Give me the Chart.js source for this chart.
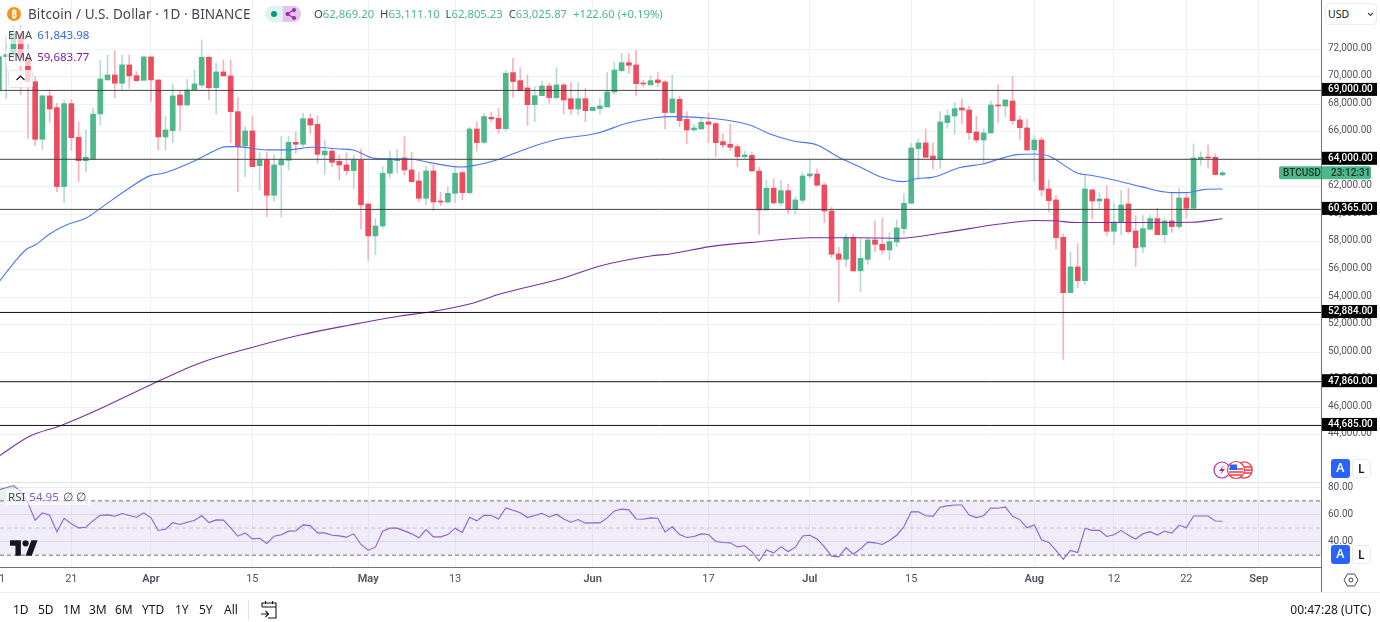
<!DOCTYPE html>
<html>
<head>
<meta charset="utf-8">
<title>BTCUSD</title>
<script src="https://cdn.jsdelivr.net/npm/chart.js@4"></script>
<style>
html, body { margin: 0; padding: 0; background: #fff; width: 1380px; height: 622px; overflow: hidden; }
body { position: relative; font-family: "Noto Sans", sans-serif; color: #434651; }
canvas { position: absolute; left: 0; display: block; }
.t { position: absolute; white-space: nowrap; line-height: 16px; }
.box { position: absolute; box-sizing: border-box; }
.rng { position: absolute; top: 602px; font-size: 12px; line-height: 16px; color: #131722; }
.btn { position: absolute; box-sizing: border-box; width: 18.5px; height: 19px; border-radius: 3px; font-size: 12px; font-weight: 600; line-height: 18px; text-align: center; }
.a { background: #2962ff; color: #fff; }
.l { background: #fff; color: #131722; border: 1px solid #e8eaf0; }
.g { color: #4cb88a; }
</style>
</head>
<body>
<canvas id="priceChart" width="1380" height="482" style="top:0"></canvas>
<canvas id="rsiChart" width="1380" height="110" style="top:482px"></canvas>

<!-- pane borders -->
<div class="box" style="left:0;top:482px;width:1321px;height:1px;background:#dfe2e6"></div>
<div class="box" style="left:0;top:592px;width:1380px;height:1px;background:#eceef2"></div>
<div class="box" style="left:1321px;top:0;width:1px;height:592px;background:#6f7278"></div>

<!-- header -->
<svg class="box" style="left:7px;top:7px" width="14" height="14" viewBox="0 0 14 14"><circle cx="7" cy="7" r="7" fill="#f7931a"/><text x="7" y="10.5" font-size="10" font-weight="700" text-anchor="middle" fill="#fff" font-family="Noto Sans">₿</text></svg>
<div class="t" style="left:28px;top:6px;font-size:13.5px;letter-spacing:.1px">Bitcoin / U.S. Dollar · 1D · BINANCE</div>
<div class="box" style="left:265px;top:6px;width:18px;height:16px;background:#e0f3f0;border-radius:8px 0 0 8px"></div>
<div class="box" style="left:283px;top:6px;width:18px;height:16px;background:#e3c4ea;border-radius:0 8px 8px 0"></div>
<div class="box" style="left:271px;top:11px;width:6px;height:6px;background:#089981;border-radius:50%"></div>
<svg class="box" style="left:284px;top:7px" width="14" height="14" viewBox="0 0 14 14"><path d="M3 7L10 3M3 7L10 11" stroke="#9c27b0" stroke-width="1.2" fill="none"/><circle cx="3.5" cy="7" r="2" fill="#9c27b0"/><circle cx="10" cy="3" r="2" fill="#9c27b0"/><circle cx="10" cy="11" r="2" fill="#9c27b0"/></svg>
<div class="t" style="left:314px;top:6px;font-size:11.3px">O<span class="g">62,869.20</span>&nbsp; H<span class="g">63,111.10</span>&nbsp; L<span class="g">62,805.23</span>&nbsp; C<span class="g">63,025.87</span>&nbsp; <span class="g">+122.60 (+0.19%)</span></div>

<!-- indicator legends -->
<div class="box" style="left:6px;top:27px;width:90px;height:17px;background:rgba(255,255,255,.65)"></div>
<div class="box" style="left:6px;top:49px;width:90px;height:17px;background:rgba(255,255,255,.65)"></div>
<div class="t" style="left:8px;top:27px;font-size:11.5px">EMA <span style="color:#2f66f0;margin-left:2px">61,843.98</span></div>
<div class="t" style="left:8px;top:49px;font-size:11.5px">EMA <span style="color:#7b1fa2;margin-left:2px">59,683.77</span></div>
<div class="box" style="left:8px;top:70px;width:25px;height:18px;background:rgba(255,255,255,.75);border:1px solid #e0e3eb;border-radius:3px"></div>
<svg class="box" style="left:15px;top:74px" width="11" height="8" viewBox="0 0 11 8"><path d="M1.5 6L5.5 2L9.5 6" stroke="#131722" stroke-width="1.2" fill="none"/></svg>
<div class="box" style="left:6px;top:489px;width:84px;height:16px;background:rgba(255,255,255,.6)"></div>
<div class="t" style="left:8px;top:489px;font-size:11.5px">RSI <span style="color:#7e57c2;margin-left:1px">54.95</span> <span style="margin-left:1px">∅ ∅</span></div>

<!-- TradingView mark -->
<svg class="box" style="left:10px;top:540px" width="28" height="16" viewBox="0 0 36 20"><path d="M14 20H7V7H0V0h14v20zM28 20h-8L27.5 0h8L28 20z" fill="#131722"/><circle cx="20" cy="4" r="4" fill="#131722"/></svg>

<!-- event icons -->
<svg class="box" style="left:1212px;top:460px" width="44" height="20" viewBox="0 0 44 20">
<circle cx="32" cy="10" r="8.2" fill="#fff" stroke="#f23645" stroke-width="1.2"/><path d="M24 7h16M24 10h16M24 13h16" stroke="#f23645" stroke-width="1.3"/>
<circle cx="10" cy="10" r="8" fill="#fff" stroke="#9c27b0" stroke-width="1.2"/><path d="M12 5L7 11h3l-2 4 5-6h-3z" fill="#9c27b0"/>
<circle cx="24" cy="10" r="8.5" fill="#fff" stroke="#f23645" stroke-width="1.2"/><path d="M17 9h14M17 12h14M18 15h12" stroke="#f23645" stroke-width="1.4"/><rect x="18" y="4.5" width="7" height="5.5" fill="#2962ff"/>
</svg>

<!-- scale buttons -->
<div class="box" style="left:1325px;top:3px;width:52px;height:22px;border:1px solid #eceef2;border-radius:4px;background:#fff"></div>
<div class="t" style="left:1328px;top:6px;font-size:10.5px;color:#131722">USD</div>
<svg class="box" style="left:1367px;top:12px" width="7" height="5" viewBox="0 0 7 5"><path d="M1 1L3.5 3.5L6 1" stroke="#434651" stroke-width="1.1" fill="none"/></svg>
<div class="btn a" style="left:1331px;top:459px">A</div>
<div class="btn l" style="left:1352px;top:459px">L</div>
<div class="btn a" style="left:1331px;top:545px">A</div>
<div class="btn l" style="left:1352px;top:545px">L</div>
<svg class="box" style="left:1343px;top:572px" width="16" height="16" viewBox="0 0 16 16"><path d="M4.5 2h7L15 8l-3.5 6h-7L1 8z" stroke="#434651" fill="none"/><circle cx="8" cy="8" r="2" stroke="#434651" fill="none"/></svg>

<!-- bottom toolbar -->
<span class="rng" style="left:13px">1D</span>
<span class="rng" style="left:38px">5D</span>
<span class="rng" style="left:63px">1M</span>
<span class="rng" style="left:89px">3M</span>
<span class="rng" style="left:115px">6M</span>
<span class="rng" style="left:142px">YTD</span>
<span class="rng" style="left:175px">1Y</span>
<span class="rng" style="left:199px">5Y</span>
<span class="rng" style="left:224px">All</span>
<div class="box" style="left:248px;top:600px;width:1px;height:20px;background:#e0e3eb"></div>
<svg class="box" style="left:260px;top:600px" width="18" height="19" viewBox="0 0 18 19"><path d="M2 7V3h14v15H8M2 7h14M5.5 1v3M12.5 1v3M1 14h7M5.5 11l3 3-3 3" stroke="#131722" stroke-width="1.1" fill="none"/></svg>
<div class="t" style="right:9px;top:602px;font-size:12px;color:#131722">00:47:28 (UTC)</div>

<script>
// Candles, one per day starting at 11 Mar (day 0)
var opens = [69000,71450,71570,73100,71400,69630,65450,68600,67750,62020,68040,65600,63900,64000,67290,69760,70120,69520,70850,70070,
69730,71430,69760,65620,66080,68670,67940,69030,69390,71400,69200,70340,70050,67460,64970,66060,63540,63950,61390,63590,
63930,65230,65090,66950,66540,64320,64600,63850,63590,63180,63930,60760,58440,59160,62985,63900,64100,63225,62430,61170,
63150,60975,60900,61530,63030,61580,66200,65235,67050,66975,66225,70290,69710,69177,67967,68620,69320,68475,69395,68400,
67650,68400,67530,67680,67800,68890,70435,71015,70845,69540,69395,69760,69610,67387,68354,66900,66130,66200,66710,66590,
65280,65090,64920,64190,64290,63150,60320,61900,60830,61725,60395,61025,62790,62935,62135,60250,57130,56740,58340,55900,
56740,58145,57830,57420,58000,58970,60810,64775,65185,64240,64000,66660,67145,67725,67580,65985,65400,65910,67943,67870,
68230,66855,66275,64680,65400,61850,61050,58340,54325,56190,55195,61775,60975,61120,58775,59400,60760,58800,57640,58920,
59695,58530,59525,59115,61195,60445,64000,64170,64145,62869];
var highs = [72400,72900,73650,73700,72400,70000,68700,69030,68060,68300,68300,66700,66130,67700,71200,71570,71860,71570,71570,70360,
71500,71430,69760,67100,69470,68980,69800,70480,72660,71450,70970,71200,71200,68500,66370,67150,64480,64550,64310,65650,
65650,66000,67340,67290,67150,65400,64800,64310,64480,64315,64750,60760,59720,63470,64600,64725,65645,64500,63060,63470,
63590,61600,62015,63470,63150,66320,66730,67340,67435,67700,70435,71330,70650,70120,69270,69660,69515,70650,69515,69565,
69565,69150,67775,68425,70290,71040,71690,71690,71930,69730,70050,70290,69710,70120,68600,67460,66540,66975,67340,66685,
65840,66565,65110,64600,64530,63395,62500,62570,62500,62210,61290,63030,63950,63300,62260,60520,57615,58580,58580,58220,
58315,59525,59720,58680,59600,61530,65160,65475,66200,65235,67460,67580,68140,68380,67870,67145,66200,68230,69395,68305,
70000,67145,66900,65720,65600,62500,61390,58580,57275,57860,62860,61850,61580,62065,60800,61725,61895,59910,59910,59910,
60445,59695,61530,61870,61605,65110,64555,65040,64385,63111];
var lows = [68500,68400,71200,68700,65520,64990,64720,66700,61650,60880,64630,62380,63100,64000,66490,69760,68480,69080,69150,69640,
69730,68190,64680,64680,65210,66080,67940,69030,69230,68300,67290,70050,65210,61650,62740,63470,61780,59840,60980,59790,
63230,64440,64920,65890,63710,62910,63470,62500,62860,61850,58945,56650,57060,58990,62670,62985,62860,62380,60930,60690,
60275,60640,60800,60855,61050,61480,64600,65160,66710,65890,66080,68500,68980,66440,66730,68620,68064,68355,67290,67240,
67240,66730,67530,67290,67800,68670,70340,70240,68600,69270,69395,69270,66180,67340,66370,65160,66000,66200,65210,64190,
64850,64630,63470,64050,63150,58560,60320,60810,60640,60080,60030,60810,62620,62110,59400,56860,53670,56210,55900,54400,
56380,57300,57130,56690,57660,58560,60810,62500,64145,63300,63350,66250,65810,66610,65450,65210,63710,65910,66660,67100,
66540,65400,64600,62380,61360,60200,57470,49485,54325,54690,54880,59670,60445,58460,57830,58510,58630,56210,57225,58920,
58530,57950,58700,58920,59720,60445,63590,63350,62890,62805];
var closes = [71450,71600,73100,71400,69630,65450,68600,67650,62020,68040,65570,63900,64150,67270,69830,70120,69520,70850,70050,69710,
71430,69760,65620,66130,68600,67940,69030,69470,71400,69200,70340,70050,67460,64900,66060,63470,63930,61390,63590,64000,
65230,65090,66950,66490,64360,64600,63780,63590,63180,63950,60690,58440,59160,62985,64000,64000,63225,62380,61170,63150,
60900,60900,61530,62985,61580,66200,65210,67100,66930,66225,70240,69636,68983,67967,68620,69320,68475,69395,68305,67650,
68400,67530,67775,67870,68890,70480,71015,70820,69490,69465,69710,69565,67390,68378,66806,66130,66275,66685,66540,65210,
65040,64870,64190,64315,63150,60320,61900,60830,61725,60395,61050,62790,62935,62110,60250,57105,56740,58340,55900,56815,
58145,57830,57420,58025,59020,60810,64820,65185,64145,64000,66710,67170,67680,67580,65935,65400,65910,67940,67870,68305,
66806,66300,64680,65400,61775,61000,58315,54325,56190,55195,61850,60975,61120,58775,59450,60685,58750,57590,58970,59695,
58530,59525,59115,61195,60445,64095,64145,64095,62890,63025];

// EMA lines, read at the days listed
var emaFastDays = [0,2,3.8,5,7,9.3,12,14,17.6,20.9,22.7,27.3,30,31.4,32.8,37,39.7,43.4,47,48.9,51.9,56.8,59.5,63.9,66,69.2,72.4,77,82.6,86.7,90.6,92.7,94,98.2,101,103.7,106.5,109.7,113,116,119,121.7,124.9,127,128.9,132.7,135.9,138.2,140.6,143,145,149,150.8,154,157.7,161.9,164,166.6,169];
var emaFastValues = [55100,56450,57470,57780,58580,59235,59720,60440,61775,62815,62985,63950,64680,64920,64920,64680,64680,64870,64750,64680,64070,64025,63760,63440,63590,64025,64680,65430,65890,66610,67020,67100,67100,66975,66800,66490,65840,65330,65040,64145,63420,62740,62380,62620,62690,63400,63660,64025,64340,64385,64240,62985,62840,62500,62015,61580,61580,61820,61844];
var emaSlowDays = [0,4.3,8.4,13.9,20.9,27.8,34.7,41.6,48.5,55.4,59.5,65,69.2,77.5,83,90,92.7,98.2,105,112,118.9,124.5,130.4,138.2,143,145.7,148.9,157.3,164.8,169];
var emaSlowValues = [42470,43925,44650,45880,47625,49220,50310,51250,51975,52630,52920,53500,54225,55310,56260,56985,57130,57660,58020,58310,58310,58270,58670,59300,59560,59540,59415,59415,59435,59684];

// RSI, one value per day
var rsiValues = [78.3,79.6,81.3,77,68.5,55.8,61.2,59.4,47.2,57.2,53.1,50.1,50.6,55.5,59.4,59.7,58.7,60.7,59.2,58,
61.2,57.5,48.2,49.1,54,52.6,54.3,55.5,59.2,54,56,55.8,50.1,44,46.4,42,42.5,38.6,44,45,
47.7,47.9,52.3,51.8,46.4,46.4,44.7,44.2,43.3,45.7,37.9,33.7,35.9,47.7,49.9,49.9,47.9,45.7,42.8,48.9,
43.5,43.5,45.2,49.9,46.8,58,55.3,59.4,59.2,56.7,64.8,63.1,61.2,57.7,59.2,60.9,58.2,60.2,56.7,54.3,
56.3,53.6,53.8,53.8,57.5,62.6,63.9,63.4,56.7,56.5,57.5,57.2,47.2,50.9,45.2,43,43.7,45.7,45.2,40.1,
39.3,39.1,36.1,36.9,32.7,25.6,33.9,31.7,36.1,32.7,35.9,44.2,44.7,42,36.1,29.3,28.8,35.6,30.7,34.7,
39.6,39.1,37.9,40.8,44.7,51.1,61.9,62,59.1,58.6,65.3,66.3,67,67,59.6,57.7,59.1,64.8,64.6,65.6,
58.6,56.2,50.2,52.2,41.4,39.4,33.5,27,33.5,32,49.8,48.3,48.3,43.8,45.1,48.3,44.6,41.9,45.8,47.3,
44.8,47.8,46.3,52.2,50.2,58.9,58.9,58.9,55.2,54.95];

// Drawn price levels and the axis ticks
var levelValues = [69000,64000,60365,52884,47860,44685];
var priceTicks = [74000,72000,70000,68000,66000,64000,62000,60000,58000,56000,54000,52000,50000,48000,46000,44000,42000];
var rsiTicks = [80,60,40];
var rsiBands = [70,50,30];
var tickDays = [0,10,21,35,51,63,82,98,112,126,143,154,164,174];
var tickLabels = ['11','21','Apr','15','May','13','Jun','17','Jul','15','Aug','12','22','Sep'];

var xMin = 0.144, xMax = 182.6;
var upColor = '#4eb88a', downColor = '#ee4b5e';
var upWick = '#b9d8d8', downWick = '#f6b3bc';
var gridColor = '#edf2f6';
var tickFont = { family: 'Roboto', size: 10 };

function money(v) {
    return v.toLocaleString('en-US', { minimumFractionDigits: 2, maximumFractionDigits: 2 });
}

function isUp(i) {
    return closes[i] >= opens[i];
}

// Fixed axis sizes so both panes line up with the reference
function fitRight(scale) {
    scale.width = 59;
    scale.paddingTop = 0;
    scale.paddingBottom = 0;
}

function hideEndLabels(v) {
    return (v === 74000 || v === 42000) ? null : money(v);
}

// Black price badges and the BTCUSD badge on the right axis
var badgePlugin = {
    id: 'badges',
    afterDraw: function(chart) {
        var c = chart.ctx, y = chart.scales.y;
        c.save();
        c.textBaseline = 'middle';
        c.font = '500 10px Roboto';
        levelValues.forEach(function(v) {
            var py = y.getPixelForValue(v) - 1;
            c.fillStyle = '#000';
            c.fillRect(1322, py - 6.5, 55, 13);
            c.fillStyle = '#fff';
            c.fillText(money(v), 1328, py + 0.5);
        });
        var last = y.getPixelForValue(closes[closes.length - 1]);
        c.fillStyle = upColor;
        c.beginPath();
        c.roundRect(1279, last - 6.5, 92, 13, 2);
        c.fill();
        c.fillStyle = '#123326';
        c.fillText('BTCUSD', 1283, last + 0.5);
        c.fillText('23:12:31', 1331, last + 0.5);
        c.restore();
    }
};

var bodyData = closes.map(function(v, i) { return { x: i, y: [opens[i], v] }; });
var wickData = closes.map(function(v, i) { return { x: i, y: [lows[i], highs[i]] }; });

function pairs(days, values) {
    return days.map(function(d, i) { return { x: d, y: values[i] }; });
}

var priceSets = [
    {
        type: 'bar', data: wickData, order: 4, barThickness: 1, grouped: false, borderWidth: 0,
        backgroundColor: function(ctx) { return isUp(ctx.dataIndex) ? upWick : downWick; }
    },
    {
        type: 'bar', data: bodyData, order: 3, barThickness: 5, grouped: false, borderWidth: 0,
        backgroundColor: function(ctx) { return isUp(ctx.dataIndex) ? upColor : downColor; }
    },
    { type: 'line', data: pairs(emaSlowDays, emaSlowValues), order: 2, borderColor: '#7b2d9e', borderWidth: 1.1, pointRadius: 0, cubicInterpolationMode: 'monotone' },
    { type: 'line', data: pairs(emaFastDays, emaFastValues), order: 1, borderColor: '#4a78f2', borderWidth: 1.1, pointRadius: 0, cubicInterpolationMode: 'monotone' }
];

levelValues.forEach(function(v) {
    priceSets.push({
        type: 'line', order: 0, pointRadius: 0, borderWidth: 1,
        borderColor: v === 52884 || v === 47860 || v === 44685 ? '#111' : '#444',
        data: [{ x: xMin, y: v }, { x: xMax, y: v }]
    });
});

new Chart(document.getElementById('priceChart'), {
    type: 'bar',
    data: { datasets: priceSets },
    plugins: [badgePlugin],
    options: {
        responsive: false,
        animation: false,
        devicePixelRatio: 1,
        events: [],
        layout: { padding: 0 },
        plugins: { legend: { display: false }, tooltip: { enabled: false } },
        scales: {
            x: {
                type: 'linear', min: xMin, max: xMax, offset: false,
                grid: { color: gridColor, offset: false, drawTicks: false },
                border: { display: false },
                ticks: { display: false },
                afterBuildTicks: function(s) { s.ticks = tickDays.map(function(d) { return { value: d }; }); }
            },
            y: {
                position: 'right', min: 40581, max: 75560,
                grid: { color: gridColor, drawTicks: false },
                border: { display: false },
                afterFit: fitRight,
                afterBuildTicks: function(s) { s.ticks = priceTicks.map(function(v) { return { value: v }; }); },
                ticks: { autoSkip: false, padding: 7, labelOffset: -1, color: '#50535e', font: tickFont, callback: hideEndLabels }
            }
        }
    }
});

// RSI pane with the date axis under it
var rsiSets = [
    {
        data: pairs(rsiValues.map(function(v, i) { return i; }), rsiValues), order: 0,
        borderColor: '#8a63d2', borderWidth: 1.1, pointRadius: 0,
        fill: { target: { value: 70 }, above: 'rgba(76,175,80,0.15)', below: 'rgba(0,0,0,0)' }
    }
];

rsiBands.forEach(function(v) {
    var set = {
        data: [{ x: xMin, y: v }, { x: xMax, y: v }], order: 1, pointRadius: 0, borderWidth: 1,
        borderDash: [4, 3], borderColor: v === 50 ? '#cfcdd8' : '#6f7280'
    };
    if (v === 70) {
        set.fill = { target: { value: 30 } };
        set.backgroundColor = 'rgba(126,87,194,0.11)';
    }
    rsiSets.push(set);
});

new Chart(document.getElementById('rsiChart'), {
    type: 'line',
    data: { datasets: rsiSets },
    options: {
        responsive: false,
        animation: false,
        devicePixelRatio: 1,
        events: [],
        layout: { padding: 0 },
        plugins: { legend: { display: false }, tooltip: { enabled: false } },
        scales: {
            x: {
                type: 'linear', min: xMin, max: xMax,
                grid: { color: gridColor, drawTicks: false },
                border: { display: true, color: '#6f7278' },
                afterBuildTicks: function(s) { s.ticks = tickDays.map(function(d) { return { value: d }; }); },
                afterFit: function(s) { s.height = 25; s.paddingLeft = 0; s.paddingRight = 0; },
                ticks: {
                    autoSkip: false, maxRotation: 0, padding: 6, color: '#50535e',
                    font: function(ctx) {
                        var bold = ctx.tick && isNaN(Number(tickLabels[tickDays.indexOf(ctx.tick.value)]));
                        return { family: 'Roboto', size: 11, weight: bold ? '600' : '400' };
                    },
                    callback: function(v) { return tickLabels[tickDays.indexOf(v)]; }
                }
            },
            y: {
                position: 'right', min: 21.3, max: 83.9,
                grid: { color: '#e6e9f5', drawTicks: false },
                border: { display: false },
                afterFit: fitRight,
                afterBuildTicks: function(s) { s.ticks = rsiTicks.map(function(v) { return { value: v }; }); },
                ticks: { autoSkip: false, padding: 7, color: '#50535e', font: tickFont, callback: function(v) { return v.toFixed(2); } }
            }
        }
    }
});
</script>
</body>
</html>
